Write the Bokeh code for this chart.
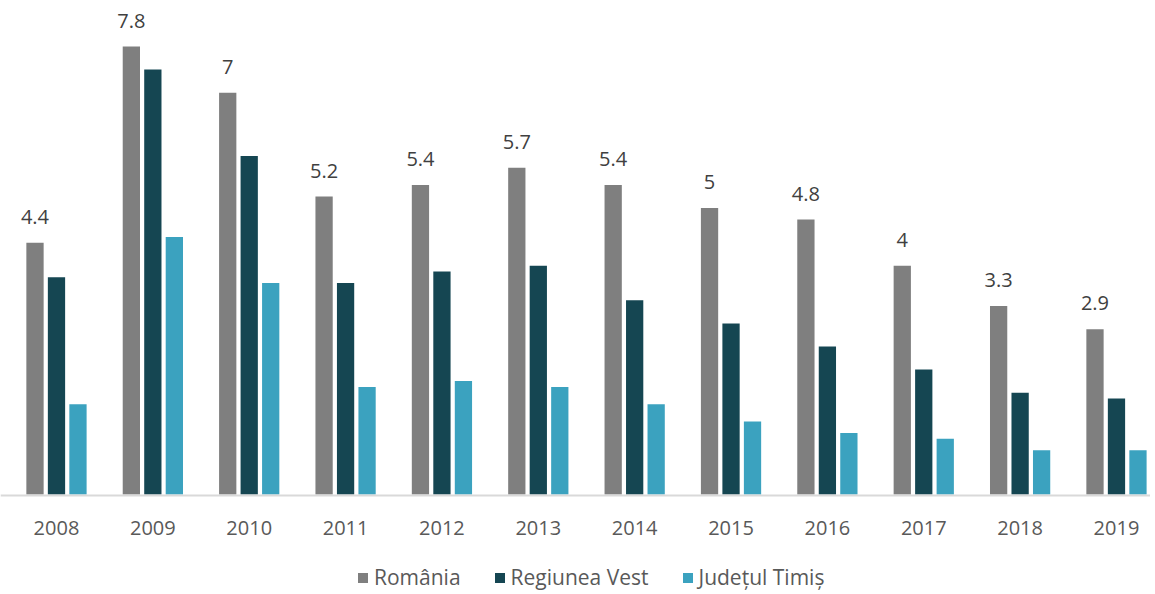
from bokeh.plotting import figure
from bokeh.models import ColumnDataSource, Range1d, Legend, LegendItem, LabelSet, Span
from bokeh.core.properties import value
from bokeh.embed import file_html
from bokeh.resources import INLINE

years = ["2008", "2009", "2010", "2011", "2012", "2013", "2014", "2015", "2016", "2017", "2018", "2019"]
romania = [4.4, 7.8, 7.0, 5.2, 5.4, 5.7, 5.4, 5.0, 4.8, 4.0, 3.3, 2.9]
vest = [3.8, 7.4, 5.9, 3.7, 3.9, 4.0, 3.4, 3.0, 2.6, 2.2, 1.8, 1.7]
timis = [1.6, 4.5, 3.7, 1.9, 2.0, 1.9, 1.6, 1.3, 1.1, 1.0, 0.8, 0.8]
series_names = ["România", "Regiunea Vest", "Județul Timiș"]
colors = ["#7f7f7f", "#154652", "#3ba2bf"]

FONT = "Open Sans"
idx = list(range(len(years)))
pitch = 0.223

p = figure(width=1150, height=594, output_backend="svg", toolbar_location=None,
           x_range=Range1d(-0.581, 11.353), y_range=Range1d(-1.716, 8.58),
           min_border_left=0, min_border_right=0, min_border_top=0, min_border_bottom=0)
p.outline_line_color = None
p.background_fill_color = "white"
p.border_fill_color = "white"
p.xgrid.visible = False
p.ygrid.visible = False
p.xaxis.visible = False
p.yaxis.visible = False

# category baseline (x axis line)
p.add_layout(Span(location=0, dimension="width", line_color="#d9d9d9", line_width=2))

renderers = []
for k, (vals, col) in enumerate(zip([romania, vest, timis], colors)):
    src = ColumnDataSource(dict(x=[i + (k - 1) * pitch for i in idx], top=vals,
                                lab=[("%g" % v) for v in vals]))
    r = p.vbar(x="x", top="top", bottom=0, width=0.2, source=src,
               fill_color=col, line_color="white", line_width=2)
    renderers.append(r)
    if k == 0:
        p.add_layout(LabelSet(x="x", y="top", text="lab", source=src, text_align="center",
                              text_baseline="alphabetic", y_offset=18, text_font=value(FONT),
                              text_font_size="20px", text_color="#404040"))

# category (year) tick labels
ysrc = ColumnDataSource(dict(x=idx, y=[0] * len(idx), lab=years))
p.add_layout(LabelSet(x="x", y="y", text="lab", source=ysrc, text_align="center",
                      text_baseline="alphabetic", y_offset=-39, text_font=value(FONT),
                      text_font_size="20px", text_color="#595959"))

legend = Legend(items=[LegendItem(label=n, renderers=[r]) for n, r in zip(series_names, renderers)],
                orientation="horizontal", location=(355, 3),
                label_text_font=FONT, label_text_font_size="21px", label_text_color="#595959",
                glyph_width=15, glyph_height=15, spacing=31, label_standoff=4,
                border_line_color=None, background_fill_alpha=0, margin=0, padding=0)
p.add_layout(legend, "center")

open("out.html", "w").write(file_html(p, INLINE))
